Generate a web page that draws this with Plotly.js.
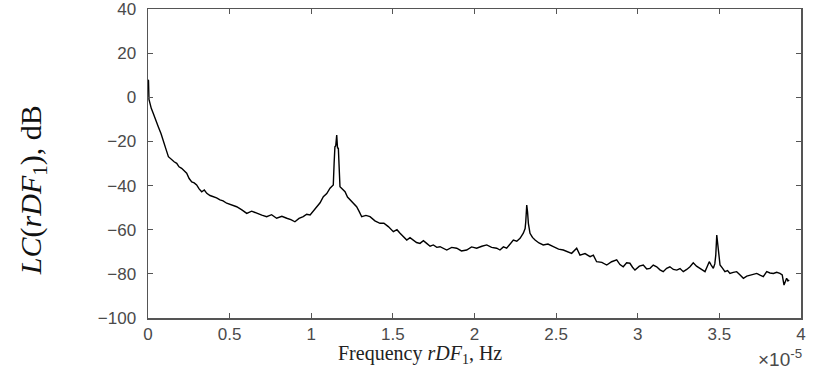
<!DOCTYPE html>
<html>
<head>
<meta charset="utf-8">
<script src="https://cdn.plot.ly/plotly-3.0.1.min.js"></script>
<style>html,body{margin:0;padding:0;background:#fff;}#chart{width:816px;height:369px;}</style>
</head>
<body>
<div id="chart"></div>
<script>
// Frequency in units of 1e-5 Hz
const freqE5 = [
  0.002, 0.003, 0.006, 0.012, 0.020, 0.0325, 0.045, 0.063, 0.080, 0.094, 0.110, 0.125, 0.145, 0.160, 0.176,
  0.190, 0.206, 0.222, 0.237, 0.252, 0.268, 0.283, 0.298, 0.313, 0.329, 0.345, 0.360, 0.380, 0.400, 0.420,
  0.441, 0.460, 0.482, 0.510, 0.543, 0.575, 0.605, 0.635, 0.666, 0.697, 0.727, 0.757, 0.788, 0.820, 0.850,
  0.875, 0.900, 0.925, 0.951, 0.972, 0.993, 1.013, 1.033, 1.054, 1.074, 1.095, 1.115, 1.135, 1.140, 1.145,
  1.150, 1.156, 1.161, 1.166, 1.176, 1.190, 1.207, 1.222, 1.237, 1.258, 1.278, 1.294, 1.309, 1.335, 1.360,
  1.390, 1.421, 1.445, 1.472, 1.503, 1.525, 1.544, 1.565, 1.585, 1.605, 1.625, 1.645, 1.666, 1.687, 1.707,
  1.728, 1.748, 1.769, 1.789, 1.810, 1.830, 1.860, 1.891, 1.920, 1.952, 1.982, 2.013, 2.045, 2.075, 2.105,
  2.136, 2.156, 2.177, 2.197, 2.218, 2.238, 2.259, 2.279, 2.299, 2.310, 2.314, 2.320, 2.325, 2.330, 2.340,
  2.355, 2.371, 2.395, 2.421, 2.450, 2.483, 2.515, 2.544, 2.570, 2.595, 2.626, 2.646, 2.677, 2.708, 2.728,
  2.748, 2.780, 2.810, 2.840, 2.871, 2.891, 2.911, 2.932, 2.952, 2.968, 2.983, 3.010, 3.034, 3.055, 3.075,
  3.095, 3.116, 3.136, 3.156, 3.177, 3.197, 3.218, 3.239, 3.259, 3.279, 3.300, 3.320, 3.340, 3.360, 3.381,
  3.397, 3.412, 3.425, 3.438, 3.450, 3.463, 3.472, 3.478, 3.484, 3.489, 3.494, 3.504, 3.520, 3.534, 3.550,
  3.565, 3.585, 3.606, 3.627, 3.647, 3.668, 3.688, 3.709, 3.729, 3.749, 3.769, 3.790, 3.810, 3.831, 3.851,
  3.871, 3.885, 3.896, 3.904, 3.912, 3.920, 3.928
];
// Level in dB
const levelDB = [
  8.0, 7.5, -1.0, -3.0, -5.0, -7.3, -10.0, -13.3, -16.5, -19.4, -23.5, -26.9, -28.4, -29.2, -29.9,
  -31.5, -32.2, -33.6, -34.4, -36.8, -38.3, -38.8, -39.7, -41.5, -42.8, -42.0, -43.5, -44.5, -45.0, -45.6,
  -46.5, -46.9, -48.0, -48.6, -49.6, -51.0, -52.6, -51.6, -52.6, -53.4, -54.1, -53.2, -54.8, -53.9, -54.8,
  -55.4, -56.4, -54.9, -54.1, -53.0, -53.3, -51.5, -49.6, -47.8, -45.0, -43.6, -41.2, -39.7, -30.0, -22.4,
  -22.0, -17.1, -23.0, -23.1, -40.5, -41.5, -42.8, -45.2, -46.5, -48.0, -49.6, -51.8, -54.1, -53.5, -54.1,
  -56.0, -57.1, -57.0, -58.6, -60.9, -60.0, -61.6, -63.0, -64.7, -63.6, -64.7, -65.8, -66.2, -65.0, -66.2,
  -67.5, -66.9, -68.0, -67.7, -68.6, -69.2, -68.0, -68.4, -69.6, -69.2, -67.8, -68.4, -67.5, -66.9, -68.0,
  -68.4, -69.2, -67.8, -68.4, -66.5, -64.7, -65.2, -63.9, -61.6, -59.5, -56.4, -48.8, -52.0, -57.1, -61.6,
  -63.5, -64.7, -66.0, -66.9, -66.5, -67.7, -68.8, -69.2, -70.0, -70.7, -68.4, -71.5, -70.8, -72.2, -71.5,
  -74.5, -74.8, -76.0, -74.5, -73.7, -75.8, -76.8, -75.0, -75.2, -77.0, -78.3, -76.5, -76.0, -77.8, -77.5,
  -76.0, -76.8, -78.2, -79.0, -77.5, -76.8, -78.0, -78.3, -77.6, -79.0, -78.0, -76.8, -75.0, -76.5, -77.5,
  -78.4, -79.0, -76.8, -74.5, -76.0, -77.5, -75.5, -71.5, -62.4, -66.0, -71.5, -76.0, -77.5, -79.0, -78.5,
  -79.8, -79.3, -79.0, -80.5, -82.0, -81.0, -80.5, -80.0, -79.8, -80.6, -81.3, -79.0, -79.6, -79.8, -79.3,
  -79.8, -80.5, -85.1, -83.0, -82.0, -83.2, -82.8
];
const xTickVals = [0, 0.5, 1, 1.5, 2, 2.5, 3, 3.5, 4];
const xTickText = ["0", "0.5", "1", "1.5", "2", "2.5", "3", "3.5", "4"];
const yTickVals = [-100, -80, -60, -40, -20, 0, 20, 40];

const tickFont = {family: "Liberation Sans, Arial, sans-serif", size: 17, color: "#4a4a4a"};
const serif = "Liberation Serif, Times New Roman, serif";

const trace = {
  x: freqE5, y: levelDB, type: "scatter", mode: "lines",
  line: {color: "#000000", width: 1.4}, hoverinfo: "skip"
};

const layout = {
  width: 816, height: 369,
  margin: {l: 148, r: 15, t: 9, b: 51},
  paper_bgcolor: "#ffffff", plot_bgcolor: "#ffffff",
  showlegend: false,
  xaxis: {
    range: [0, 4], tickvals: xTickVals, ticktext: xTickText,
    ticks: "inside", ticklen: 5, tickcolor: "#555", tickwidth: 1,
    showline: true, linecolor: "#555", linewidth: 1.5, mirror: "ticks",
    showgrid: false, zeroline: false, tickfont: tickFont, ticklabelstandoff: 0,
    ticklabeloverflow: "allow"
  },
  yaxis: {
    range: [-100, 40], tickvals: yTickVals,
    ticks: "inside", ticklen: 5, tickcolor: "#555", tickwidth: 1,
    showline: true, linecolor: "#555", linewidth: 1.5, mirror: "ticks",
    showgrid: false, zeroline: false, tickfont: tickFont, ticklabelstandoff: 7,
    ticklabeloverflow: "allow"
  },
  annotations: [
    {
      text: "<i>LC</i>(<i>rDF</i><sub>1</sub>), dB",
      xref: "paper", yref: "paper", x: -0.176, y: 0.414,
      xanchor: "center", yanchor: "middle", textangle: -90, showarrow: false,
      font: {family: serif, size: 30, color: "#111"}
    },
    {
      text: "Frequency <i>rDF</i><sub>1</sub>, Hz",
      xref: "paper", yref: "paper", x: 0.4165, y: -0.118,
      xanchor: "center", yanchor: "middle", showarrow: false,
      font: {family: serif, size: 20, color: "#222"}
    },
    {
      text: "×10<sup>-5</sup>",
      xref: "paper", yref: "paper", x: 1.004, y: -0.128,
      xanchor: "right", yanchor: "middle", showarrow: false,
      font: {family: "Liberation Sans, Arial, sans-serif", size: 19, color: "#4a4a4a"}
    }
  ]
};

Plotly.newPlot("chart", [trace], layout, {displayModeBar: false, staticPlot: true});
</script>
</body>
</html>
